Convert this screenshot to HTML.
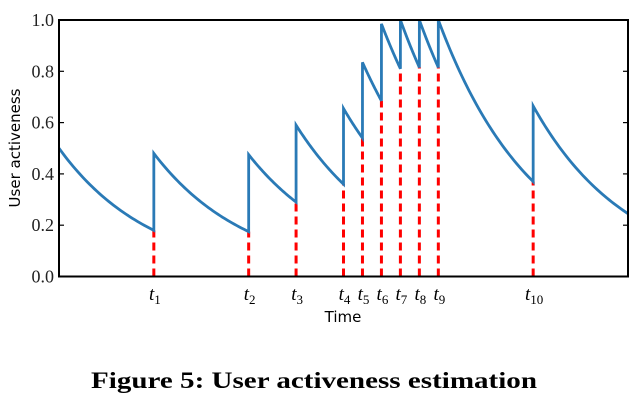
<!DOCTYPE html>
<html><head><meta charset="utf-8"><style>
body{margin:0;background:#fff;}
svg{display:block;}
.serif{font-family:"Liberation Serif","DejaVu Serif",serif;}
.sans{font-family:"DejaVu Sans","Liberation Sans",sans-serif;}
</style></head><body>
<svg id="chart" width="637" height="407" xmlns="http://www.w3.org/2000/svg">
<g id="plot"></g>
<text class="sans" x="0" y="0" transform="translate(20,148) rotate(-90)" text-anchor="middle" font-size="15">User activeness</text>
<text class="sans" x="343" y="322" text-anchor="middle" font-size="15">Time</text>
<text class="serif" x="91" y="388" textLength="446" lengthAdjust="spacingAndGlyphs" font-weight="bold" font-size="23">Figure 5: User activeness estimation</text>
</svg>
<script>
const eventTimes = [10,20,25,30,32,34,36,38,40,50];
const eventLabels = ["1","2","3","4","5","6","7","8","9","10"];
const valueBefore = [0.18,0.175,0.29,0.36,0.54,0.685,0.81,0.815,0.815,0.37];
const valueAfter = [0.48,0.475,0.59,0.655,0.835,0.985,1.0,1.0,1.0,0.665];
const startValue = [0.5];
const endValue = [0.245];
const yTicks = [0,0.2,0.4,0.6,0.8,1.0];
const yTickLabels = ["0.0","0.2","0.4","0.6","0.8","1.0"];
const xDomain = [0,60];

const L=59,R=628,T=20,B=276.5;
const sx=t=>L+(t-xDomain[0])/(xDomain[1]-xDomain[0])*(R-L);
const sy=v=>B-v*(B-T);
const NS="http://www.w3.org/2000/svg";
const g=document.getElementById('plot');
function mk(tag,attrs){const e=document.createElementNS(NS,tag);for(const k in attrs)e.setAttribute(k,attrs[k]);g.appendChild(e);return e;}

eventTimes.forEach((t,i)=>{
  const ln=mk('line',{x1:sx(t),x2:sx(t),y1:B,y2:sy(valueBefore[i]),stroke:'#ff0000','stroke-width':3,'stroke-dasharray':'8,5'});
  
  
});

let prevT=xDomain[0],prevV=startValue[0];
let d='M'+sx(prevT)+','+sy(prevV);
function decaySeg(t0,v0,t1,v1){
  let s='';const n=40;
  for(let k=1;k<=n;k++){const f=k/n;const t=t0+(t1-t0)*f;const v=v0*Math.pow(v1/v0,f);s+=' L'+sx(t).toFixed(2)+','+sy(v).toFixed(2);}
  return s;
}
eventTimes.forEach((t,i)=>{
  d+=decaySeg(prevT,prevV,t,valueBefore[i]);
  d+=' L'+sx(t).toFixed(2)+','+sy(valueAfter[i]).toFixed(2);
  prevT=t;prevV=valueAfter[i];
});
d+=decaySeg(prevT,prevV,xDomain[1],endValue[0]);
const cp=document.createElementNS(NS,'clipPath');cp.setAttribute('id','clip');
const cr=document.createElementNS(NS,'rect');cr.setAttribute('x',L);cr.setAttribute('y',T-2);cr.setAttribute('width',R-L);cr.setAttribute('height',B-T+2);cp.appendChild(cr);g.appendChild(cp);
const curve=mk('path',{d:d,fill:'none',stroke:'#2a7ab6','stroke-width':2.8,'stroke-linejoin':'miter','clip-path':'url(#clip)'});



const fr=mk('rect',{x:L,y:T,width:R-L,height:B-T,fill:'none',stroke:'#000','stroke-width':2});



yTicks.forEach((v,i)=>{
  mk('line',{x1:L,x2:L+5,y1:sy(v),y2:sy(v),stroke:'#000','stroke-width':1.2});
  mk('line',{x1:R-5,x2:R,y1:sy(v),y2:sy(v),stroke:'#000','stroke-width':1.2});
  const tx=mk('text',{x:L-5,y:sy(v)+6,'text-anchor':'end','font-size':18,fill:'#222',class:'serif'});
  tx.textContent=yTickLabels[i];
  
  
});

eventTimes.forEach((t,i)=>{
  const tx=mk('text',{x:sx(t)+1,y:300,'text-anchor':'middle','font-size':19,class:'serif'});
  const a=document.createElementNS(NS,'tspan');a.setAttribute('font-style','italic');a.textContent='t';tx.appendChild(a);
  const b=document.createElementNS(NS,'tspan');b.setAttribute('font-size','13');b.setAttribute('dy','4');b.textContent=eventLabels[i];tx.appendChild(b);
  
  
});
</script>
</body></html>
